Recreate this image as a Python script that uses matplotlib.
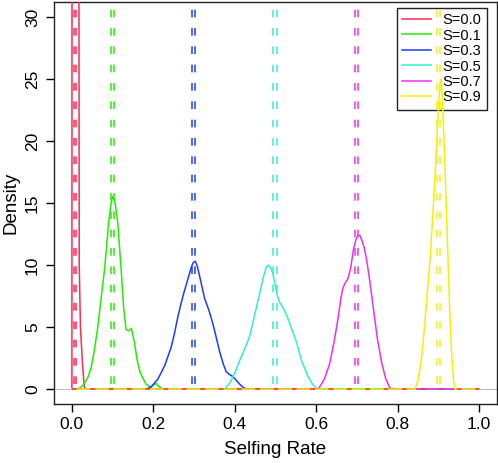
import matplotlib
matplotlib.use("Agg")
import matplotlib.pyplot as plt
from matplotlib.lines import Line2D

plt.rcParams['font.family'] = ['Liberation Sans', 'DejaVu Sans']

# selfing rates simulated
s_values = [0.0, 0.1, 0.3, 0.5, 0.7, 0.9]
labels = ["S=0.0", "S=0.1", "S=0.3", "S=0.5", "S=0.7", "S=0.9"]
colors = ['#FF2A55', '#22EE00', '#1E3CFF', '#30F0D0', '#EE30EE', '#F2F200']

# dashed reference lines (two per run)
est_left = [0.004, 0.095, 0.295, 0.495, 0.695, 0.896]
est_right = [0.011, 0.103, 0.302, 0.503, 0.703, 0.905]

# density estimates
x_s0 = [0.0, 0.0, 0.0005, 0.008, 0.0165, 0.018, 0.021, 0.026, 0.031, 1.0]
d_s0 = [0.0, 0.0, 60.0, 90.0, 60.0, 10.0, 5.0, 2.0, 0.0, 0.0]

x_s1 = [0.0, 0.010, 0.020, 0.030, 0.040, 0.047, 0.055, 0.0636, 0.072, 0.080,
        0.086, 0.090, 0.0964, 0.100, 0.103, 0.107, 0.1127, 0.121, 0.127, 0.133,
        0.139, 0.146, 0.154, 0.160, 0.166, 0.174, 0.182, 0.195, 0.201, 0.207,
        0.214, 0.223, 1.0]
d_s1 = [0.0, 0.0, 0.1, 0.4, 1.0, 1.7, 3.1, 5.0, 7.4, 9.6,
        11.8, 13.4, 15.0, 15.5, 15.4, 14.8, 13.4, 9.6, 6.6, 4.8,
        4.7, 4.9, 3.7, 2.4, 1.5, 0.9, 0.4, 0.15, 0.35, 0.45,
        0.2, 0.0, 0.0]

x_s3 = [0.0, 0.182, 0.195, 0.211, 0.228, 0.244, 0.252, 0.260, 0.268, 0.277,
        0.286, 0.293, 0.298, 0.303, 0.308, 0.3137, 0.326, 0.336, 0.346, 0.355,
        0.363, 0.372, 0.379, 0.386, 0.396, 0.404, 0.412, 0.422, 0.432, 1.0]
d_s3 = [0.0, 0.0, 0.2, 0.8, 1.9, 3.4, 4.5, 5.8, 6.9, 8.0,
        9.0, 9.8, 10.2, 10.3, 9.9, 9.1, 7.3, 6.4, 5.3, 4.1,
        3.0, 2.0, 1.4, 1.2, 1.0, 0.7, 0.4, 0.1, 0.0, 0.0]

x_s5 = [0.0, 0.375, 0.388, 0.400, 0.412, 0.425, 0.437, 0.449, 0.461, 0.470,
        0.477, 0.482, 0.488, 0.493, 0.498, 0.504, 0.510, 0.518, 0.527, 0.538,
        0.5515, 0.565, 0.580, 0.593, 0.605, 1.0]
d_s5 = [0.0, 0.0, 0.5, 1.3, 2.3, 3.3, 4.3, 6.0, 7.7, 9.0,
        9.8, 10.0, 9.8, 9.4, 8.6, 7.6, 7.0, 6.6, 6.0, 5.0,
        3.8, 2.2, 1.0, 0.3, 0.0, 0.0]

x_s7 = [0.0, 0.605, 0.620, 0.6335, 0.645, 0.654, 0.661, 0.666, 0.672, 0.678,
        0.685, 0.691, 0.698, 0.703, 0.707, 0.712, 0.718, 0.724, 0.732, 0.740,
        0.750, 0.761, 0.771, 0.781, 0.790, 1.0]
d_s7 = [0.0, 0.0, 0.8, 2.1, 4.0, 5.8, 7.4, 8.2, 8.6, 8.9,
        9.8, 11.2, 12.1, 12.4, 12.4, 12.0, 11.4, 10.4, 8.6, 6.6,
        4.1, 2.1, 0.8, 0.1, 0.0, 0.0]

x_s9 = [0.0, 0.843, 0.851, 0.859, 0.866, 0.873, 0.880, 0.886, 0.892, 0.897,
        0.901, 0.904, 0.906, 0.909, 0.912, 0.916, 0.920, 0.924, 0.928, 0.933,
        0.937, 0.941, 1.0]
d_s9 = [0.0, 0.0, 0.8, 2.6, 5.0, 7.8, 10.6, 13.8, 17.2, 20.6,
        23.2, 24.6, 25.0, 24.1, 21.6, 18.2, 14.2, 10.2, 6.2, 2.6,
        0.8, 0.0, 0.0]

xs = [x_s0, x_s1, x_s3, x_s5, x_s7, x_s9]
ds = [d_s0, d_s1, d_s3, d_s5, d_s7, d_s9]

fig = plt.figure(figsize=(4.98, 4.63), dpi=100)
ax = fig.add_axes([0.1084, 0.1274, 0.8896, 0.8683])

ax.axhline(0, color='#BBBBBB', lw=0.8, zorder=1)

for x, d, c in zip(xs, ds, colors):
    ax.plot(x, d, color=c, lw=1.1, zorder=3, solid_joinstyle='round')

# red dashes along the baseline
ax.plot([0.0, 1.0], [0.0, 0.0], color=colors[0], lw=1.1, dashes=(3, 9), zorder=3)

for lo, hi, c in zip(est_left, est_right, colors):
    ax.vlines([lo, hi], 0.4, 31.2, colors=c, lw=1.1, linestyles=(0, (5.0, 7.0)), zorder=3)

ax.set_xlim(-0.044, 1.044)
ax.set_ylim(-1.2, 31.2)
ax.set_xticks([0.0, 0.2, 0.4, 0.6, 0.8, 1.0])
ax.set_xticklabels(["0.0", "0.2", "0.4", "0.6", "0.8", "1.0"])
ax.set_yticks([0, 5, 10, 15, 20, 25, 30])
ax.tick_params(axis='both', direction='out', length=6, width=1, labelsize=12.5)
ax.tick_params(axis='x', pad=3)
ax.tick_params(axis='y', labelrotation=90, pad=4)
for t in ax.get_yticklabels():
    t.set_va('center')
for sp in ax.spines.values():
    sp.set_linewidth(1.0)
    sp.set_color('#222222')

ax.set_xlabel("Selfing Rate", fontsize=13.5, labelpad=7)
ax.set_ylabel("Density", fontsize=13.5, labelpad=4)

handles = [Line2D([], [], color=c, lw=1.1) for c in colors]
leg = ax.legend(handles, labels, loc='upper right', bbox_to_anchor=(0.9767, 0.985),
                borderaxespad=0, fontsize=10.5, handlelength=2.0, handletextpad=0.8,
                labelspacing=0.1, borderpad=0.35, fancybox=False,
                facecolor='none', edgecolor='#222222')
leg.get_frame().set_linewidth(1.0)
leg.get_frame().set_alpha(None)
leg.set_zorder(2)

fig.savefig("out.png", dpi=100)
